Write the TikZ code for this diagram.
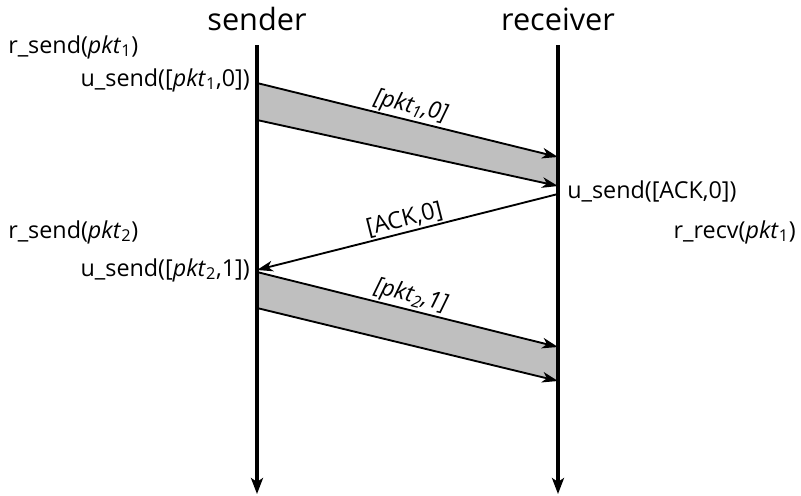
\documentclass[tikz,border=0pt]{standalone}
\usepackage{fontspec}
\setmainfont{Open Sans}
\usetikzlibrary{arrows.meta}

\tikzset{
  lifeline/.style={line width=3pt, -{Stealth[length=12pt,width=9pt,inset=3pt]}},
  msg/.style={line width=1.4pt, -{Stealth[length=12pt,width=8pt,inset=3.5pt]}},
  pktband/.style={fill=black!25, draw=none},
  event/.style={font=\fontsize{17.5}{20}\selectfont, inner sep=0pt},
  party/.style={font=\fontsize{23}{27}\selectfont, inner sep=0pt},
  msglabel/.style={font=\fontsize{17.5}{20}\selectfont, sloped, above, inner sep=1pt},
}

\begin{document}
\begin{tikzpicture}[x=0.75pt, y=-0.75pt]
  \useasboundingbox (0,0) rectangle (801,496);

  % parties
  \node[party] (sender) at (257,19) {sender};
  \node[party] (receiver) at (558,19) {receiver};

  % points on the lifelines
  \coordinate (s0) at (257,45);
  \coordinate (sEnd) at (257,494);
  \coordinate (r0) at (558,45);
  \coordinate (rEnd) at (558,494);
  \coordinate (s1a) at (257,83);
  \coordinate (s1b) at (257,120);
  \coordinate (r1a) at (558,157);
  \coordinate (r1b) at (558,186);
  \coordinate (rAck) at (558,194);
  \coordinate (sAck) at (257,270);
  \coordinate (s2a) at (257,272);
  \coordinate (s2b) at (257,308);
  \coordinate (r2a) at (558,347);
  \coordinate (r2b) at (558,381);

  % packet bands
  \fill[pktband] (s1a) -- (r1a) -- (r1b) -- (s1b) -- cycle;
  \fill[pktband] (s2a) -- (r2a) -- (r2b) -- (s2b) -- cycle;

  % lifelines
  \draw[lifeline] (s0) -- (sEnd);
  \draw[lifeline] (r0) -- (rEnd);

  % messages
  \draw[msg] (s1a) -- node[msglabel] {\itshape [pkt\textsubscript{1},0]} (r1a);
  \draw[msg] (s1b) -- (r1b);
  \draw[msg] (rAck) -- node[msglabel] {[ACK,0]} (sAck);
  \draw[msg] (s2a) -- node[msglabel] {\itshape [pkt\textsubscript{2},1]} (r2a);
  \draw[msg] (s2b) -- (r2b);

  % events
  \node[event, anchor=west] (rsend1) at (8,47) {r\_send(\textit{pkt}\textsubscript{1})};
  \node[event, anchor=east] (usend1) at (250,80) {u\_send([\textit{pkt}\textsubscript{1},0])};
  \node[event, anchor=west] (usendack) at (567,191) {u\_send([ACK,0])};
  \node[event, anchor=west] (rsend2) at (8,232) {r\_send(\textit{pkt}\textsubscript{2})};
  \node[event, anchor=east] (rrecv1) at (796,232) {r\_recv(\textit{pkt}\textsubscript{1})};
  \node[event, anchor=east] (usend2) at (250,270) {u\_send([\textit{pkt}\textsubscript{2},1])};
\end{tikzpicture}
\end{document}
